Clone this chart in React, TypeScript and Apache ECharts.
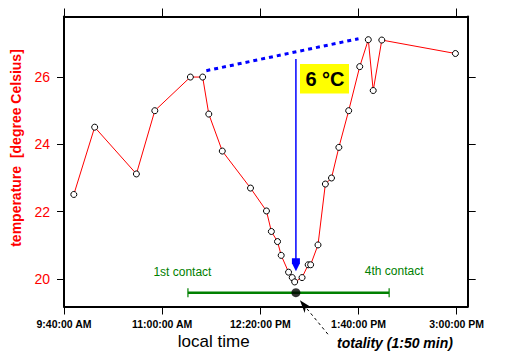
import React, { useEffect, useRef } from "react";
import * as echarts from "echarts";

// ---- data (local clock time, 24h) ----
const START_TIME = "9:40";
const times = [
  "9:48", "10:05", "10:39", "10:54", "11:23", "11:33", "11:38", "11:49",
  "12:12", "12:25", "12:29", "12:34", "12:37", "12:43", "12:46", "12:48",
  "12:54", "12:59", "13:01", "13:07", "13:13", "13:18", "13:24", "13:32",
  "13:41", "13:48", "13:52", "13:59", "14:59",
];
const temps = [
  22.51, 24.51, 23.12, 25.0, 26.0, 26.0, 24.9, 23.8,
  22.7, 22.02, 21.41, 21.11, 20.7, 20.2, 20.04, 19.91,
  20.04, 20.42, 20.42, 21.01, 22.82, 23.0, 23.91, 25.0,
  26.31, 27.11, 25.6, 27.1, 26.7,
];
const xTickTimes = ["9:40", "11:00", "12:20", "13:40", "15:00"];
const yTicks = [20, 22, 24, 26];
const xMaxTime = "15:09";
const yMin = 19.18;
const yMax = 27.8;

// annotations
const trendTimes = ["11:36", "13:40"];
const trendTemps = [26.19, 27.14];
const contactTimes = ["11:21", "14:05"];
const contactLabels = ["1st contact", "4th contact"];
const contactLevel = 19.59;
const totalityTime = "12:49";
const totalityLabel = "totality (1:50 min)";
const deltaLabel = "6 °C";
const arrowFromTemp = 26.54;
const arrowToTemp = 20.23;
const xAxisTitle = "local time";
const yAxisTitle = "temperature  [degree Celsius]";

const FONT = "'Liberation Sans', Arial, sans-serif";

function clockToMin(t: string): number {
  const [h, m] = t.split(":").map(Number);
  return h * 60 + m;
}
const startMin = clockToMin(START_TIME);
function toX(t: string): number {
  return clockToMin(t) - startMin;
}
function fmtClock(v: number): string {
  const total = Math.round(startMin + v);
  const h = Math.floor(total / 60);
  const m = total % 60;
  const ampm = h < 12 ? "AM" : "PM";
  const h12 = h > 12 ? h - 12 : h;
  return `${h12}:${String(m).padStart(2, "0")}:00 ${ampm}`;
}

export default function App() {
  const ref = useRef<HTMLDivElement>(null);
  useEffect(() => {
    document.body.style.margin = "0";
    if (!ref.current) return;
    const chart = echarts.init(ref.current, undefined, { renderer: "svg" });
    const xTicks = xTickTimes.map(toX);
    const xMax = toX(xMaxTime);

    const xAxisBase = {
      type: "value" as const,
      min: 0,
      max: xMax,
      splitLine: { show: false },
      axisLine: { show: true, onZero: false, lineStyle: { color: "#000", width: 2 } },
      axisTick: { show: true, inside: false, length: 8, customValues: xTicks, lineStyle: { color: "#000", width: 1 } },
    };
    const yAxisBase = {
      type: "value" as const,
      min: yMin,
      max: yMax,
      splitLine: { show: false },
      axisLine: { show: true, onZero: false, lineStyle: { color: "#000", width: 2 } },
      axisTick: { show: true, inside: false, length: 7, customValues: yTicks, lineStyle: { color: "#000", width: 1 } },
    };

    const option: any = {
      animation: false,
      backgroundColor: "#fff",
      grid: { left: 64, right: 38.3, top: 16.5, bottom: 56.5, outerBoundsMode: "none", containLabel: false },
      xAxis: [
        {
          ...xAxisBase,
          position: "bottom",
          axisLabel: {
            customValues: xTicks,
            formatter: (v: number) => fmtClock(v),
            color: "#000",
            fontFamily: FONT,
            fontWeight: "bold",
            fontSize: 10.5,
            margin: 12,
          },
        },
        { ...xAxisBase, position: "top", axisLabel: { show: false } },
      ],
      yAxis: [
        {
          ...yAxisBase,
          position: "left",
          axisLabel: {
            customValues: yTicks,
            color: "#ff0000",
            fontFamily: FONT,
            fontSize: 14,
            margin: 14,
          },
        },
        { ...yAxisBase, position: "right", axisTick: { ...yAxisBase.axisTick, length: 8 }, axisLabel: { show: false } },
      ],
      series: [
        {
          type: "line",
          data: trendTimes.map((t, i) => [toX(t), trendTemps[i]]),
          symbol: "none",
          lineStyle: { color: "#0000ff", width: 3, type: [4, 4] },
          z: 2,
          silent: true,
        },
        {
          type: "line",
          data: contactTimes.map((t) => [toX(t), contactLevel]),
          symbol: "none",
          lineStyle: { color: "#008000", width: 2.5 },
          z: 2,
          silent: true,
        },
        {
          type: "scatter",
          data: contactTimes.map((t) => [toX(t), contactLevel]),
          symbol: "rect",
          symbolSize: [1.5, 9],
          itemStyle: { color: "#008000" },
          z: 3,
          silent: true,
        },
        {
          type: "scatter",
          data: [[toX(totalityTime), contactLevel]],
          symbol: "circle",
          symbolSize: 9,
          itemStyle: { color: "#000" },
          z: 3,
          silent: true,
        },
        {
          type: "line",
          data: times.map((t, i) => [toX(t), temps[i]]),
          symbol: "circle",
          symbolSize: 6,
          showAllSymbol: true,
          lineStyle: { color: "#ff0000", width: 1 },
          itemStyle: { color: "#ffffff", borderColor: "#000", borderWidth: 1 },
          z: 4,
          silent: true,
        },
      ],
    };
    chart.setOption(option);

    const px = (t: string, v: number) =>
      chart.convertToPixel({ xAxisIndex: 0, yAxisIndex: 0 }, [toX(t), v]) as number[];
    const aTop = px(totalityTime, arrowFromTemp);
    const aTip = px(totalityTime, arrowToTemp);
    const dot = px(totalityTime, contactLevel);
    const c1 = px(contactTimes[0], contactLevel);
    const c4 = px(contactTimes[1], contactLevel);

    // dashed arrow toward totality dot
    const tip = [dot[0] + 4, dot[1] + 7.5];
    const tail = [tip[0] + 28, tip[1] + 34];
    const dx = tip[0] - tail[0];
    const dy = tip[1] - tail[1];
    const len = Math.hypot(dx, dy);
    const ux = dx / len, uy = dy / len;
    const hl = 13, hw = 4.5;
    const base = [tip[0] - ux * hl, tip[1] - uy * hl];
    const notch = [tip[0] - ux * hl * 0.7, tip[1] - uy * hl * 0.7];
    const perp = [-uy * hw, ux * hw];

    const graphic: any[] = [
      {
        type: "text",
        x: 15.5,
        y: 148,
        rotation: Math.PI / 2,
        style: {
          text: yAxisTitle,
          fill: "#ff0000",
          fontFamily: FONT,
          fontWeight: "bold",
          fontSize: 14,
          align: "center",
          verticalAlign: "middle",
        },
      },
      {
        type: "text",
        x: 213.7,
        y: 341.5,
        style: {
          text: xAxisTitle,
          fill: "#000",
          fontFamily: FONT,
          fontSize: 17,
          align: "center",
          verticalAlign: "middle",
        },
      },
      {
        type: "text",
        x: 337,
        y: 343,
        style: {
          text: totalityLabel,
          fill: "#000",
          fontFamily: FONT,
          fontStyle: "italic",
          fontWeight: "bold",
          fontSize: 14,
          align: "left",
          verticalAlign: "middle",
        },
      },
      // blue arrow
      {
        type: "line",
        shape: { x1: aTop[0], y1: aTop[1], x2: aTip[0], y2: aTip[1] - 9 },
        style: { stroke: "#0000ff", lineWidth: 1.5 },
        z: 10,
      },
      {
        type: "polygon",
        shape: {
          points: [
            [aTip[0] - 4, aTip[1] - 13],
            [aTip[0] + 4, aTip[1] - 13],
            [aTip[0] + 4, aTip[1] - 8],
            [aTip[0], aTip[1]],
            [aTip[0] - 4, aTip[1] - 8],
          ],
        },
        style: { fill: "#0000ff" },
        z: 10,
      },
      // yellow box
      {
        type: "rect",
        shape: { x: 300, y: 64, width: 49, height: 29.5 },
        style: { fill: "#ffff00" },
        z: 11,
      },
      {
        type: "text",
        x: 325,
        y: 78.5,
        z: 12,
        style: {
          text: deltaLabel,
          fill: "#000",
          fontFamily: FONT,
          fontWeight: "bold",
          fontSize: 20,
          align: "center",
          verticalAlign: "middle",
        },
      },
      // contact labels
      {
        type: "text",
        x: c1[0] - 5.5,
        y: c1[1] - 20.5,
        style: {
          text: contactLabels[0],
          fill: "#008000",
          fontFamily: FONT,
          fontSize: 12,
          align: "center",
          verticalAlign: "middle",
        },
      },
      {
        type: "text",
        x: c4[0] + 5,
        y: c4[1] - 22,
        style: {
          text: contactLabels[1],
          fill: "#008000",
          fontFamily: FONT,
          fontSize: 12,
          align: "center",
          verticalAlign: "middle",
        },
      },
      // dashed black arrow
      {
        type: "line",
        shape: { x1: tail[0], y1: tail[1], x2: notch[0], y2: notch[1] },
        style: { stroke: "#000", lineWidth: 1, lineDash: [3, 3] },
        z: 10,
      },
      {
        type: "polygon",
        shape: {
          points: [
            [tip[0], tip[1]],
            [base[0] + perp[0], base[1] + perp[1]],
            [notch[0], notch[1]],
            [base[0] - perp[0], base[1] - perp[1]],
          ],
        },
        style: { fill: "#000" },
        z: 10,
      },
    ];
    chart.setOption({ graphic });

    return () => chart.dispose();
  }, []);
  return <div ref={ref} style={{ width: 506, height: 363 }} />;
}
